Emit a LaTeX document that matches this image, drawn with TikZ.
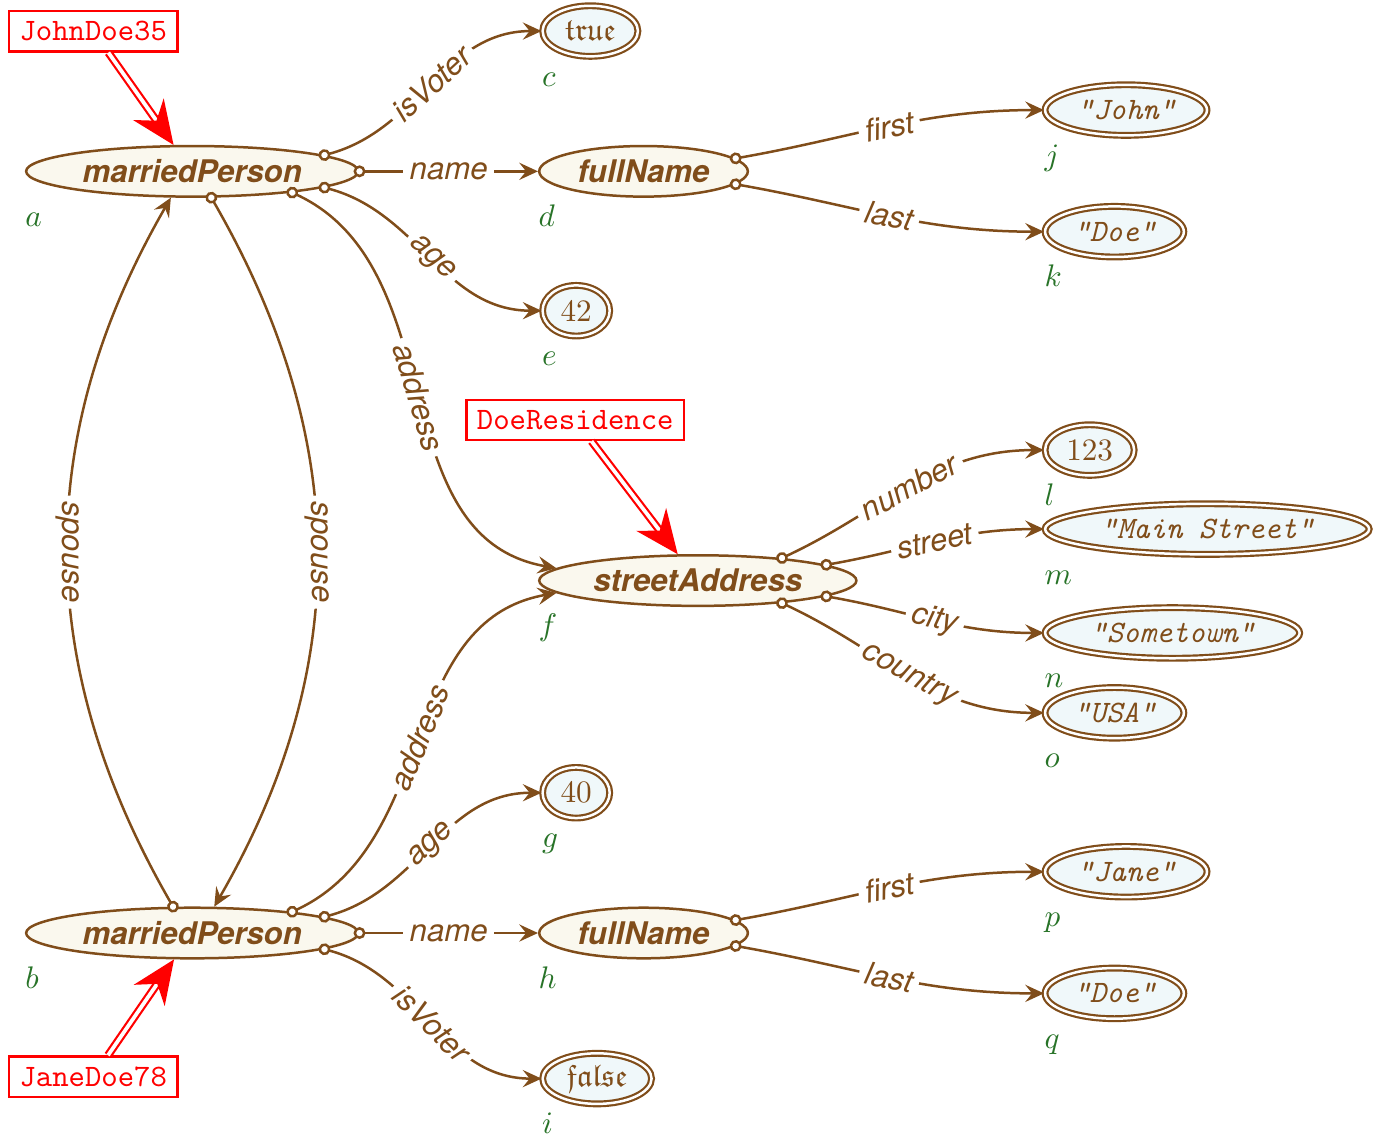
\documentclass[tikz,border=0pt]{standalone}
\usepackage{amsfonts}
\usepackage{fontspec}
\setsansfont{TeX Gyre Heros}
\usetikzlibrary{arrows.meta,shapes.geometric}

\definecolor{rdfbrown}{RGB}{128,77,26}
\definecolor{classfill}{RGB}{250,248,238}
\definecolor{litfill}{RGB}{240,248,250}
\definecolor{lblgreen}{RGB}{40,115,40}

\tikzset{
  class/.style={ellipse, draw=rdfbrown, fill=classfill, text=rdfbrown, line width=0.8pt,
    font=\sffamily\bfseries\itshape, inner xsep=2.5pt, inner ysep=0pt, minimum height=0.57cm, anchor=west},
  literal/.style={ellipse, draw=rdfbrown, double=white, double distance=0.8pt, line width=0.7pt,
    fill=litfill, text=rdfbrown, inner xsep=2.6pt, inner ysep=0pt, minimum height=0.57cm, anchor=west},
  strlit/.style={literal, font=\ttfamily\itshape},
  lbl/.style={text=lblgreen, anchor=base west, inner sep=0pt},
  prop/.style={draw=rdfbrown, line width=0.8pt, shorten <=-1.9pt,
    {Circle[open,fill=white,length=3.8pt]}-{Stealth[length=6pt,width=5.5pt,inset=2.2pt]}},
  plbl/.style={fill=white, text=rdfbrown, font=\sffamily\itshape, inner sep=2pt},
  handle/.style={draw=red, text=red, line width=0.8pt, font=\ttfamily, fill=white},
  refer/.style={draw=red, line width=0.7pt, double=white, double distance=1.2pt,
    -{Stealth[length=14pt,width=12pt,inset=4.5pt]}}
}

\begin{document}
\begin{tikzpicture}
\useasboundingbox (0,0) rectangle (15.5,-12.91);

%Resources
\node[class] (a) at (0.28,-1.93) {marriedPerson};
\node[class] (b) at (0.28,-10.51) {marriedPerson};
\node[class] (d) at (6.06,-1.93) {fullName};
\node[class] (f) at (6.06,-6.54) {streetAddress};
\node[class] (h) at (6.06,-10.51) {fullName};

%Values
\node[literal] (c) at (6.1,-0.35) {$\mathfrak{true}$};
\node[literal] (e) at (6.1,-3.5) {42};
\node[literal] (g) at (6.1,-8.93) {40};
\node[literal] (i) at (6.1,-12.15) {$\mathfrak{false}$};
\node[strlit] (j) at (11.76,-1.24) {"John"};
\node[strlit] (k) at (11.76,-2.61) {"Doe"};
\node[literal] (l) at (11.76,-5.07) {123};
\node[strlit] (m) at (11.76,-5.96) {"Main Street"};
\node[strlit] (n) at (11.76,-7.13) {"Sometown"};
\node[strlit] (o) at (11.76,-8.03) {"USA"};
\node[strlit] (p) at (11.76,-9.82) {"Jane"};
\node[strlit] (q) at (11.76,-11.19) {"Doe"};

%Node letters
\node[lbl] (la) at ([yshift=-0.62cm]a.west) {$a$};
\node[lbl] (lb) at ([yshift=-0.62cm]b.west) {$b$};
\node[lbl] (lc) at ([yshift=-0.62cm]c.west) {$c$};
\node[lbl] (ld) at ([yshift=-0.62cm]d.west) {$d$};
\node[lbl] (le) at ([yshift=-0.62cm]e.west) {$e$};
\node[lbl] (lf) at ([yshift=-0.62cm]f.west) {$f$};
\node[lbl] (lg) at ([yshift=-0.62cm]g.west) {$g$};
\node[lbl] (lh) at ([yshift=-0.62cm]h.west) {$h$};
\node[lbl] (li) at ([yshift=-0.62cm]i.west) {$i$};
\node[lbl] (lj) at ([yshift=-0.62cm]j.west) {$j$};
\node[lbl] (lk) at ([yshift=-0.62cm]k.west) {$k$};
\node[lbl] (ll) at ([yshift=-0.62cm]l.west) {$l$};
\node[lbl] (lm) at ([yshift=-0.62cm]m.west) {$m$};
\node[lbl] (ln) at ([yshift=-0.62cm]n.west) {$n$};
\node[lbl] (lo) at ([yshift=-0.62cm]o.west) {$o$};
\node[lbl] (lp) at ([yshift=-0.62cm]p.west) {$p$};
\node[lbl] (lq) at ([yshift=-0.62cm]q.west) {$q$};

%Properties of a
\draw[prop] (a.7) to[out=15,in=180] node[plbl,sloped] {isVoter} (c);
\draw[prop] (a) -- node[plbl] {name} (d);
\draw[prop] (a.-7) to[out=-15,in=180] node[plbl,sloped] {age} (e);
\draw[prop] (a.-12) to[out=-25,in=170] node[plbl,sloped] {address} (f.175);
\draw[prop] (a.-54) to[out=-60,in=60] node[plbl,sloped] {spouse} (b.50);

%Properties of b
\draw[prop] (b.126) to[out=120,in=-120] node[plbl,sloped] {spouse} (a.-129);
\draw[prop] (b.12) to[out=25,in=190] node[plbl,sloped] {address} (f.185);
\draw[prop] (b.7) to[out=15,in=180] node[plbl,sloped] {age} (g);
\draw[prop] (b) -- node[plbl] {name} (h);
\draw[prop] (b.-7) to[out=-15,in=180] node[plbl,sloped] {isVoter} (i);

%Names
\draw[prop] (d.8) to[out=10,in=180] node[plbl,sloped] {first} (j);
\draw[prop] (d.-8) to[out=-10,in=180] node[plbl,sloped] {last} (k);
\draw[prop] (h.8) to[out=10,in=180] node[plbl,sloped] {first} (p);
\draw[prop] (h.-8) to[out=-10,in=180] node[plbl,sloped] {last} (q);

%Address
\draw[prop] (f.15) to[out=25,in=180] node[plbl,sloped] {number} (l);
\draw[prop] (f.7) to[out=10,in=180] node[plbl,sloped] {street} (m);
\draw[prop] (f.-7) to[out=-10,in=180] node[plbl,sloped] {city} (n);
\draw[prop] (f.-15) to[out=-25,in=180] node[plbl,sloped] {country} (o);

%Identifiers
\node[handle] (jd35) at (1.05,-0.35) {JohnDoe35};
\node[handle] (dres) at (6.48,-4.73) {DoeResidence};
\node[handle] (jd78) at (1.05,-12.13) {JaneDoe78};
\draw[refer] (jd35) -- (a);
\draw[refer] (dres) -- (f);
\draw[refer] (jd78) -- (b);

\end{tikzpicture}
\end{document}
